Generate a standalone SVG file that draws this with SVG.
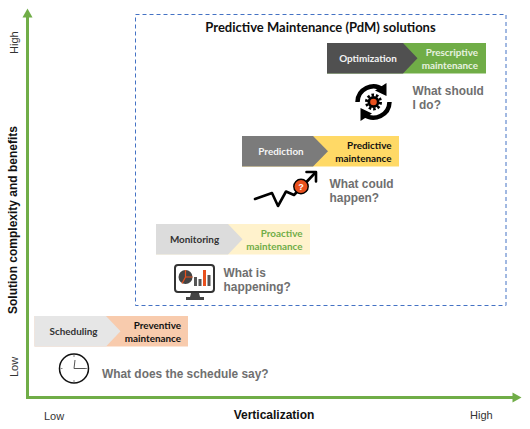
<svg xmlns="http://www.w3.org/2000/svg" width="530" height="429" viewBox="0 0 530 429">
<style>
.lat{font-family:Lato,"Open Sans",sans-serif;font-weight:700;font-size:9.9px}
.q{font-family:"Liberation Sans",Arial,sans-serif;font-weight:700;font-size:11.9px;fill:#6f6f6f}
.ax{font-family:"Liberation Sans",Arial,sans-serif;font-size:11px;fill:#333}
.axb{font-family:"Liberation Sans",Arial,sans-serif;font-weight:700;font-size:12px;fill:#111}
.e{text-anchor:end}.m{text-anchor:middle}
.axis{stroke:#70ad47;stroke-width:3;fill:none}
.ic{fill:none;stroke:#000;stroke-linecap:round;stroke-linejoin:round}
</style>
<rect width="530" height="429" fill="#fff"/>
<g id="connectors">
<path class="axis" d="M27.500 397.500V16M26 397.500H514"/>
<path d="M27.500 8.500L32.500 17.500H22.500Z" fill="#70ad47"/>
<path d="M521.500 397.500L512.500 392.500V402.500Z" fill="#70ad47"/>
</g>
<g id="axis-labels">
<text class="ax" transform="translate(18,54) rotate(-90)">High</text>
<text class="ax" transform="translate(18,377) rotate(-90)">Low</text>
<text class="axb m" transform="translate(17,220) rotate(-90)">Solution complexity and benefits</text>
<text class="ax" x="44" y="420">Low</text>
<text class="ax" x="470" y="419">High</text>
<text class="axb m" x="274" y="419">Verticalization</text>
</g>
<g id="pdm-frame">
<rect x="135.500" y="14.500" width="370.500" height="291" fill="none" stroke="#4472c4" stroke-width="1" stroke-dasharray="4 3"/>
<text x="320.500" y="31.500" text-anchor="middle" style="font-family:Lato,'Open Sans',sans-serif;font-weight:700;font-size:13px;fill:#111">Predictive Maintenance (PdM) solutions</text>
</g>
<g id="optimization">
<rect x="327" y="43" width="159" height="30.500" fill="#70ad47"/>
<path d="M327 43H403L417.500 58.250L403 73.500H327Z" fill="#505050"/>
<text class="lat m" x="368" y="62" fill="#f2f2f2">Optimization</text>
<text class="lat e" x="478" y="55.500" fill="#e8f2e0">Prescriptive</text>
<text class="lat e" x="478" y="68.500" fill="#e8f2e0">maintenance</text>
</g>
<g id="optimization-icon">
<path d="M357.500 102A16 16 0 0 1 383 89.500M389.500 102A16 16 0 0 1 364 114.500" fill="none" stroke="#000" stroke-width="4.500"/>
<path d="M386.500 83L386.500 96L375 90.500Z M360.500 121L360.500 108L372 113.500Z" fill="#000"/>
<circle cx="373.500" cy="102" r="7" fill="none" stroke="#000" stroke-width="3" stroke-dasharray="2.500 1.900"/>
<circle cx="373.500" cy="102" r="6" fill="#000"/>
<circle cx="373.500" cy="102" r="3.300" fill="#e8501e"/>
</g>
<g id="optimization-question">
<text class="q" x="412.500" y="94.500">What should</text>
<text class="q" x="412.500" y="108.500">I do?</text>
</g>
<g id="prediction">
<rect x="242" y="136" width="157" height="30.500" fill="#ffd966"/>
<path d="M242 136H313L328 151.250L313 166.500H242Z" fill="#7b7b7b"/>
<text class="lat m" x="281" y="155" fill="#f5f5f5">Prediction</text>
<text class="lat e" x="391.500" y="148.500" fill="#111">Predictive</text>
<text class="lat e" x="391.500" y="161.500" fill="#111">maintenance</text>
</g>
<g id="prediction-icon">
<path class="ic" stroke-width="2.600" d="M255 199L272 193L278 206L286 191.500L294 195L315.500 172.500"/>
<path class="ic" stroke-width="2.600" d="M306.500 172H316V181.500"/>
<circle cx="301" cy="186.500" r="7.200" fill="#e8501e" stroke="#000" stroke-width="1.400"/>
<text x="301" y="190" text-anchor="middle" style="font-family:'Liberation Sans',sans-serif;font-weight:700;font-size:9px;fill:#fff">?</text>
</g>
<g id="prediction-question">
<text class="q" x="329.500" y="188">What could</text>
<text class="q" x="329.500" y="202">happen?</text>
</g>
<g id="monitoring">
<rect x="156" y="224" width="154" height="30.500" fill="#fff2cc"/>
<path d="M156 224H228L242.500 239.250L228 254.500H156Z" fill="#dcdcdc"/>
<text class="lat m" x="194.500" y="243" fill="#333">Monitoring</text>
<text class="lat e" x="302.500" y="236.500" fill="#70ad47">Proactive</text>
<text class="lat e" x="302.500" y="249.500" fill="#70ad47">maintenance</text>
</g>
<g id="monitoring-icon">
<rect x="175" y="265" width="39" height="27" rx="3" fill="#fff" stroke="#333" stroke-width="2"/>
<path d="M191 293H199L200 297H190Z M186 297H204V300H186Z" fill="#444"/>
<circle cx="185.500" cy="277" r="7" fill="#444"/>
<path d="M185.500 270V277H192.500M185.500 277L182 283.500" stroke="#e8501e" stroke-width="1.200" fill="none"/>
<rect x="194" y="277" width="3" height="9" fill="#555"/>
<rect x="198.500" y="279" width="3" height="7" fill="#555"/>
<rect x="203" y="270" width="3" height="16" fill="#e8501e"/>
<rect x="207.500" y="275" width="3" height="11" fill="#555"/>
</g>
<g id="monitoring-question">
<text class="q" x="223.500" y="277">What is</text>
<text class="q" x="223.500" y="291">happening?</text>
</g>
<g id="scheduling">
<rect x="34.500" y="316" width="153.500" height="30.500" fill="#f8cbad"/>
<path d="M34.500 316H106L120.500 331.250L106 346.500H34.500Z" fill="#e6e6e6"/>
<text class="lat m" x="73.500" y="335" fill="#333">Scheduling</text>
<text class="lat e" x="181" y="328.500" fill="#111">Preventive</text>
<text class="lat e" x="181" y="341.500" fill="#111">maintenance</text>
</g>
<g id="scheduling-icon">
<circle cx="74" cy="368.500" r="14.500" fill="#fff" stroke="#111" stroke-width="1.500"/>
<path d="M74 368.500L75 360M74 368.500H86" stroke="#555" stroke-width="1" fill="none"/>
<path d="M74 355V357M74 380V382M60.500 368.500H62.500M85.500 368.500H87.500" stroke="#888" stroke-width="1"/>
</g>
<g id="scheduling-question">
<text class="q" x="102" y="377.500">What does the schedule say?</text>
</g>
</svg>
